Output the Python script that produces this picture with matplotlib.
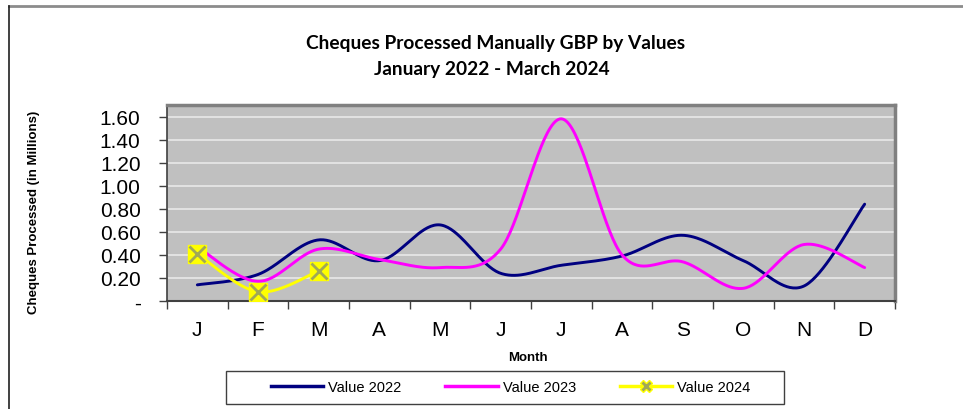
import numpy as np
import matplotlib
matplotlib.use("Agg")
import matplotlib.pyplot as plt
from matplotlib.lines import Line2D
from matplotlib.patches import Rectangle

months = ["J", "F", "M", "A", "M", "J", "J", "A", "S", "O", "N", "D"]
value_2022 = [0.14, 0.23, 0.53, 0.35, 0.66, 0.24, 0.31, 0.39, 0.57, 0.35, 0.13, 0.84]
value_2023 = [0.47, 0.17, 0.45, 0.36, 0.29, 0.45, 1.58, 0.40, 0.34, 0.11, 0.49, 0.29]
value_2024 = [0.41, 0.08, 0.26]
y_ticks = [0.0, 0.2, 0.4, 0.6, 0.8, 1.0, 1.2, 1.4, 1.6]
y_tick_labels = ["-", "0.20", "0.40", "0.60", "0.80", "1.00", "1.20", "1.40", "1.60"]


def smooth(xs, ys, n=40):
    P = np.column_stack([xs, ys]).astype(float)
    if len(P) < 3:
        return P[:, 0], P[:, 1]
    ext = np.vstack([P[0], P, P[-1]])
    out = []
    for i in range(len(P) - 1):
        p0, p1, p2, p3 = ext[i], ext[i + 1], ext[i + 2], ext[i + 3]
        c1 = p1 + (p2 - p0) / 6.0
        c2 = p2 - (p3 - p1) / 6.0
        t = np.linspace(0, 1, n)[:, None]
        seg = ((1 - t) ** 3) * p1 + 3 * ((1 - t) ** 2) * t * c1 + 3 * (1 - t) * t ** 2 * c2 + t ** 3 * p2
        out.append(seg if i == 0 else seg[1:])
    S = np.vstack(out)
    return S[:, 0], S[:, 1]


fig = plt.figure(figsize=(9.63, 4.10), dpi=100)
fig.patch.set_facecolor("white")

ax = fig.add_axes([167 / 963, 1 - 302 / 410, (895 - 167) / 963, (302 - 106) / 410])
ax.set_facecolor("#C0C0C0")

x = np.arange(len(months))
navy = "#000080"
mag = "#FF00FF"
yel = "#FFFF00"
xcol = "#A0A858"

sx, sy = smooth(x, value_2022)
ax.plot(sx, sy, color=navy, lw=2.1, solid_capstyle="round", zorder=3)
sx, sy = smooth(x, value_2023)
ax.plot(sx, sy, color=mag, lw=2.1, solid_capstyle="round", zorder=3)
x24 = x[:len(value_2024)]
sx, sy = smooth(x24, value_2024)
ax.plot(sx, sy, color=yel, lw=2.1, zorder=4)
ax.plot(x24, value_2024, ls="none", marker="s", ms=13, mfc=yel, mec=yel, zorder=5)
ax.plot(x24, value_2024, ls="none", marker="x", ms=11, mew=2, color=xcol, zorder=6)

ax.set_xlim(-0.5, len(months) - 0.5)
ax.set_ylim(0, 1.70)

ax.set_yticks(y_ticks)
ax.set_yticklabels(y_tick_labels, fontfamily="Liberation Sans", fontsize=15)
ax.yaxis.grid(True, color="#E8E8E8", lw=1.2)
ax.set_axisbelow(True)

ax.set_xticks(x)
ax.set_xticklabels(months, fontfamily="Liberation Sans", fontsize=15)
ax.set_xticks(np.arange(-0.5, len(months), 1.0), minor=True)
ax.tick_params(axis="x", which="major", length=0, pad=14)
ax.tick_params(axis="x", which="minor", length=6, width=1, color="#404040")
ax.tick_params(axis="y", which="major", length=6, width=1, color="#404040", pad=13)

for s in ["top", "right"]:
    ax.spines[s].set_color("#808080")
    ax.spines[s].set_linewidth(2.5)
ax.spines["left"].set_color("#404040")
ax.spines["left"].set_linewidth(1.2)
ax.spines["bottom"].set_color("#404040")
ax.spines["bottom"].set_linewidth(1.5)

# Titles
fig.text(496 / 963, 1 - 43 / 410, "Cheques Processed Manually GBP by Values",
         ha="center", va="center", fontfamily="Lato", fontweight="bold", fontsize=13.8)
fig.text(492 / 963, 1 - 70 / 410, "January 2022 - March 2024",
         ha="center", va="center", fontfamily="Lato", fontweight="bold", fontsize=13.8)

fig.text(34 / 963, 1 - 212 / 410, "Cheques Processed (in Millions)", rotation=90,
         ha="center", va="center", fontfamily="Liberation Sans", fontweight="bold", fontsize=9.5)
fig.text(528 / 963, 1 - 358 / 410, "Month", ha="center", va="center",
         fontfamily="Liberation Sans", fontweight="bold", fontsize=9.5)

# Chart border lines (top and left)
fig.add_artist(Line2D([9 / 963, 1], [1 - 7 / 410, 1 - 7 / 410], transform=fig.transFigure,
                      color="#8C8C8C", lw=2))
fig.add_artist(Line2D([9 / 963, 9 / 963], [0, 1 - 7 / 410], transform=fig.transFigure,
                      color="#202020", lw=1.2))

# Legend box
fig.add_artist(Rectangle((226 / 963, 1 - 405 / 410), (784 - 226) / 963, 33 / 410,
                         transform=fig.transFigure, fill=False, edgecolor="#404040", lw=1.0))
handles = [
    Line2D([], [], color=navy, lw=2.5),
    Line2D([], [], color=mag, lw=2.5),
    Line2D([], [], color=yel, lw=2.5, marker="X", ms=9, mfc=xcol, mec=yel),
]
leg = fig.legend(handles, ["Value 2022", "Value 2023", "Value 2024"], ncol=3,
                 loc="center", bbox_to_anchor=(510.5 / 963, 1 - 388.5 / 410),
                 prop={"family": "Liberation Sans", "size": 10.5},
                 frameon=False,
                 handlelength=3.6, columnspacing=3.0, handletextpad=0.34,
                 borderpad=0.3)

fig.savefig("out.png", dpi=100, facecolor="white")
